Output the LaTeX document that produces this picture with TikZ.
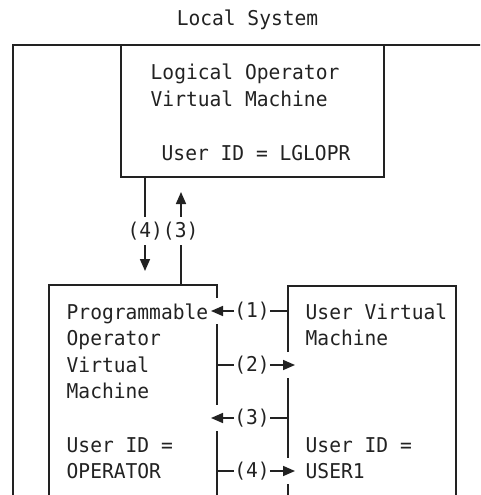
\documentclass[tikz,border=0pt]{standalone}
\usepackage{fontspec}
\setmainfont{DejaVu Sans Mono}[FakeStretch=0.96]
\usetikzlibrary{arrows.meta}
\definecolor{ink}{HTML}{222222}
\begin{document}
\begin{tikzpicture}[x=1pt,y=-1pt,
  txt/.style={anchor=base west,inner sep=0pt,text=ink,font=\fontsize{20.4}{24}\selectfont},
  lbl/.style={anchor=center,inner xsep=0pt,inner ysep=5pt,text=ink,font=\fontsize{20.4}{24}\selectfont},
  ln/.style={draw=ink,line width=1.6pt},
  arr/.style={ln,-{Triangle[length=12pt,width=10pt]}}]
\useasboundingbox (0,0) rectangle (480,495);
\clip (0,0) rectangle (480,495);
% outer frame (Local System)
\draw[ln] (485,45) -- (13,45) -- (13,500);
% Logical operator box
\draw[ln] (121,45) -- (121,177) -- (384,177) -- (384,45);
% Programmable operator box
\draw[ln] (49,500) -- (49,285) -- (217,285) -- (217,298);
\draw[ln] (217,324) -- (217,405);
\draw[ln] (217,431) -- (217,500);
% User box
\draw[ln] (288,352) -- (288,286) -- (456,286) -- (456,500);
\draw[ln] (288,378) -- (288,458);
\draw[ln] (288,484) -- (288,500);
% texts
\node[anchor=base,inner sep=0pt,text=ink,font=\fontsize{20.4}{24}\selectfont] (title) at (247.5,26) {Local System};
\node[txt] (lo1) at (150.5,80) {Logical Operator};
\node[txt] (lo2) at (150.5,106.6) {Virtual Machine};
\node[txt] (lo3) at (161.5,160.5) {User ID = LGLOPR};
\node[txt] (po1) at (66.5,319) {Programmable};
\node[txt] (po2) at (66.5,345.6) {Operator};
\node[txt] (po3) at (66.5,372) {Virtual};
\node[txt] (po4) at (66.5,398.5) {Machine};
\node[txt] (po5) at (66.5,452) {User ID =};
\node[txt] (po6) at (66.5,478.5) {OPERATOR};
\node[txt] (uv1) at (305.5,319) {User Virtual};
\node[txt] (uv2) at (305.5,345.6) {Machine};
\node[txt] (uv5) at (305.5,452) {User ID =};
\node[txt] (uv6) at (305.5,478.5) {USER1};
% vertical connectors
\node[lbl] (l43) at (163,231) {(4)(3)};
\coordinate (dtop) at (145,177);
\coordinate (dtip) at (145,271);
\coordinate (ubase) at (181,285);
\coordinate (utip) at (181,192);
\draw[ln] (dtop) -- (dtop |- l43.north);
\draw[arr] (dtop |- l43.south) -- (dtip);
\draw[ln] (ubase) -- (ubase |- l43.south);
\draw[arr] (ubase |- l43.north) -- (utip);
% horizontal connectors
\node[lbl] (l1) at (252,311) {(1)};
\node[lbl] (l2) at (252,365) {(2)};
\node[lbl] (l3) at (252,418) {(3)};
\node[lbl] (l4) at (252,471) {(4)};
\coordinate (s1) at (288,311); \coordinate (t1) at (211,311);
\coordinate (s2) at (217,365); \coordinate (t2) at (295,365);
\coordinate (s3) at (288,418); \coordinate (t3) at (211,418);
\coordinate (s4) at (217,471); \coordinate (t4) at (295,471);
\draw[ln] (s1) -- (l1.east); \draw[arr] (l1.west) -- (t1);
\draw[ln] (s2) -- (l2.west); \draw[arr] (l2.east) -- (t2);
\draw[ln] (s3) -- (l3.east); \draw[arr] (l3.west) -- (t3);
\draw[ln] (s4) -- (l4.west); \draw[arr] (l4.east) -- (t4);
\end{tikzpicture}
\end{document}
